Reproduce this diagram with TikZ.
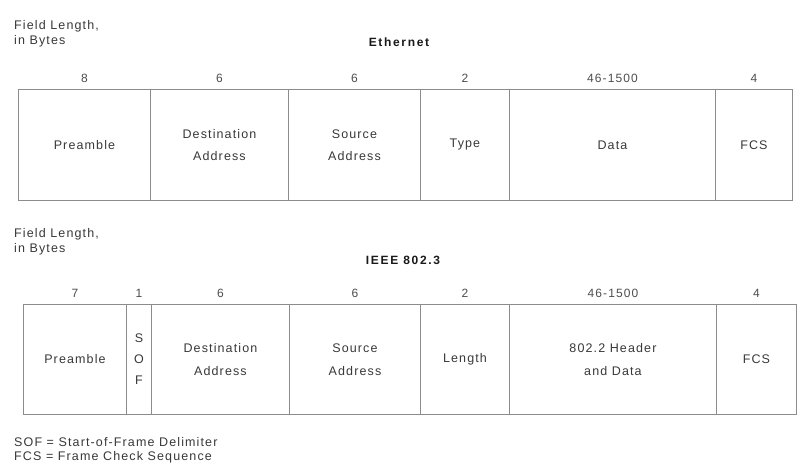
\documentclass[tikz,border=0pt]{standalone}
\usepackage{fontspec}
\setmainfont{Liberation Sans}[LetterSpace=9]
\newfontfamily\titlefont{Liberation Sans}[LetterSpace=14]
\usetikzlibrary{positioning}

\begin{document}
\begin{tikzpicture}[
      x=1pt,y=-1pt,
      field/.style={draw=black!45,line width=0.9pt,anchor=north west,
        inner sep=0pt,align=center,text=black!78,
        font=\fontsize{12.5}{22.5}\selectfont},
      row1/.style={field,minimum height=111pt},
      row2/.style={field,minimum height=110pt},
      len/.style={inner sep=0pt,text=black!70,font=\fontsize{12}{14}\selectfont},
      title/.style={inner sep=0pt,text=black!90,font=\titlefont\bfseries\fontsize{12}{14}\selectfont},
      note/.style={inner sep=0pt,anchor=north west,align=left,text=black!78,
        font=\fontsize{12.5}{15}\selectfont}
    ]
    \useasboundingbox (0,0) rectangle (803,463);
    % Ethernet frame
    \node[note] (ehead) at (14,20) {Field Length,\\in Bytes};
    \node[title] (etitle) at (399,42) {Ethernet};
    \node[row1,minimum width=132pt] (epre) at (18,89) {Preamble};
    \node[row1,minimum width=138pt] (edst) at (150,89) {Destination\\Address};
    \node[row1,minimum width=132pt] (esrc) at (288,89) {Source\\Address};
    \node[row1,minimum width=89pt] (etyp) at (420,89) {Type};
    \node[row1,minimum width=206pt] (edat) at (509,89) {Data};
    \node[row1,minimum width=77pt] (efcs) at (715,89) {FCS};
    \node[len,above=6pt of epre] {8};
    \node[len,above=6pt of edst] {6};
    \node[len,above=6pt of esrc] {6};
    \node[len,above=6pt of etyp] {2};
    \node[len,above=6pt of edat] {46-1500};
    \node[len,above=6pt of efcs] {4};
    % IEEE 802.3 frame
    \node[note] (ihead) at (14,228) {Field Length,\\in Bytes};
    \node[title] (ititle) at (403,260) {IEEE 802.3};
    \node[row2,minimum width=103pt] (ipre) at (23,304) {Preamble};
    \node[row2,minimum width=25pt,font=\fontsize{12.5}{21}\selectfont] (isof) at (126,304) {S\\O\\F};
    \node[row2,minimum width=138pt] (idst) at (151,304) {Destination\\Address};
    \node[row2,minimum width=131pt] (isrc) at (289,304) {Source\\Address};
    \node[row2,minimum width=89pt] (ilen) at (420,304) {Length};
    \node[row2,minimum width=207pt] (idat) at (509,304) {802.2 Header\\and Data};
    \node[row2,minimum width=80pt] (ifcs) at (716,304) {FCS};
    \node[len,above=6pt of ipre] {7};
    \node[len,above=6pt of isof] {1};
    \node[len,above=6pt of idst] {6};
    \node[len,above=6pt of isrc] {6};
    \node[len,above=6pt of ilen] {2};
    \node[len,above=6pt of idat] {46-1500};
    \node[len,above=6pt of ifcs] {4};
    % key
    \node[note,font=\fontsize{12.5}{14.5}\selectfont] (key) at (14,437)
      {SOF = Start-of-Frame Delimiter\\FCS = Frame Check Sequence};
  \end{tikzpicture}
\end{document}
